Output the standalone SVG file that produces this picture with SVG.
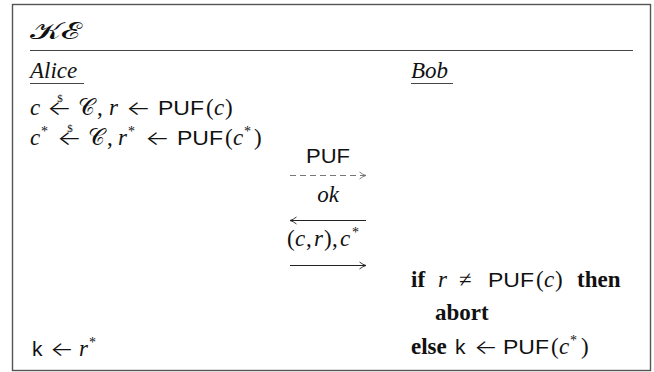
<svg xmlns="http://www.w3.org/2000/svg" width="654" height="372" viewBox="0 0 654 372">
<defs>
<marker id="ah" markerWidth="10" markerHeight="10" refX="8" refY="5" orient="auto" markerUnits="userSpaceOnUse">
<path d="M1.5,1.5 Q5,4.3 8,5 Q5,5.7 1.5,8.5" fill="none" stroke="#222" stroke-width="0.9"/>
</marker>
<marker id="ahg" markerWidth="10" markerHeight="10" refX="8" refY="5" orient="auto" markerUnits="userSpaceOnUse">
<path d="M1.5,1.5 Q5,4.3 8,5 Q5,5.7 1.5,8.5" fill="none" stroke="#777" stroke-width="0.9"/>
</marker>
</defs>
<style>
text{font-family:"Liberation Serif","DejaVu Serif",serif;font-size:23px;fill:#111}
.i{font-style:italic}
.s{font-family:"Liberation Sans","DejaVu Sans",sans-serif;font-size:21px}
.b{font-weight:bold}
.cal{font-family:"DejaVu Serif","Liberation Serif",serif}
.ar{font-family:"Inter","DejaVu Sans",sans-serif;font-weight:300;font-size:20px}
.d{font-size:11px}
.sup{font-size:14px}
.ln{stroke:#222;stroke-width:1;fill:none}
</style>
<rect x="12.5" y="4.5" width="638" height="366" fill="#fff" stroke="#555" stroke-width="1.4"/>
<g id="title">
<text x="30" y="39" class="cal" font-size="25" textLength="50" lengthAdjust="spacingAndGlyphs">𝒦ℰ</text>
<line x1="30" y1="50.5" x2="633" y2="50.5" stroke="#444" stroke-width="1"/>
</g>
<g id="alice">
<text x="30" y="78" class="i" font-size="25">Alice</text>
<line x1="30" y1="83.5" x2="84" y2="83.5" stroke="#333" stroke-width="0.9"/>
<text x="30" y="115"><tspan class="i">c</tspan><tspan x="47" class="ar" textLength="25" lengthAdjust="spacingAndGlyphs">←</tspan><tspan x="78" class="cal">𝒞</tspan><tspan x="97">,</tspan><tspan x="109" class="i">r</tspan><tspan x="126" class="ar" textLength="25" lengthAdjust="spacingAndGlyphs">←</tspan><tspan x="158" class="s" textLength="46" lengthAdjust="spacingAndGlyphs">PUF</tspan><tspan x="206">(</tspan><tspan x="214" class="i">c</tspan><tspan x="225">)</tspan></text>
<text x="60" y="102" class="d" text-anchor="middle">$</text>
<text x="30" y="145"><tspan class="i">c</tspan><tspan x="41" class="sup" dy="-9">*</tspan><tspan x="57" dy="9" class="ar" textLength="25" lengthAdjust="spacingAndGlyphs">←</tspan><tspan x="88" class="cal">𝒞</tspan><tspan x="107">,</tspan><tspan x="118" class="i">r</tspan><tspan x="128" class="sup" dy="-9">*</tspan><tspan x="145" dy="9" class="ar" textLength="25" lengthAdjust="spacingAndGlyphs">←</tspan><tspan x="177" class="s" textLength="46" lengthAdjust="spacingAndGlyphs">PUF</tspan><tspan x="225">(</tspan><tspan x="233" class="i">c</tspan><tspan x="244" class="sup" dy="-9">*</tspan><tspan x="254" dy="9">)</tspan></text>
<text x="70" y="132" class="d" text-anchor="middle">$</text>
<text x="32" y="356"><tspan class="s">k</tspan><tspan x="50" class="ar" textLength="24" lengthAdjust="spacingAndGlyphs">←</tspan><tspan x="79" class="i">r</tspan><tspan x="89" class="sup" dy="-9">*</tspan></text>
</g>
<g id="bob">
<text x="411" y="78" class="i" font-size="25">Bob</text>
<line x1="411" y1="83.5" x2="453" y2="83.5" stroke="#333" stroke-width="0.9"/>
<text x="411" y="287"><tspan class="b">if</tspan><tspan x="438" class="i">r</tspan><tspan x="459">≠</tspan><tspan x="488" class="s" textLength="46" lengthAdjust="spacingAndGlyphs">PUF</tspan><tspan x="536">(</tspan><tspan x="544" class="i">c</tspan><tspan x="555">)</tspan><tspan x="577" class="b">then</tspan></text>
<text x="435" y="320" class="b">abort</text>
<text x="411" y="354"><tspan class="b">else</tspan><tspan x="455" class="s">k</tspan><tspan x="474" class="ar" textLength="24" lengthAdjust="spacingAndGlyphs">←</tspan><tspan x="503" class="s" textLength="46" lengthAdjust="spacingAndGlyphs">PUF</tspan><tspan x="551">(</tspan><tspan x="559" class="i">c</tspan><tspan x="570" class="sup" dy="-9">*</tspan><tspan x="581" dy="9">)</tspan></text>
</g>
<g id="connectors">
<text x="306" y="163" class="s" textLength="44" lengthAdjust="spacingAndGlyphs">PUF</text>
<line x1="290" y1="175.5" x2="366" y2="175.5" stroke="#777" stroke-width="1" stroke-dasharray="6,4" marker-end="url(#ahg)"/>
<text x="328" y="202" class="i" text-anchor="middle">ok</text>
<line x1="366" y1="220.5" x2="290" y2="220.5" class="ln" marker-end="url(#ah)"/>
<text x="287" y="246">(<tspan x="295" class="i">c</tspan><tspan x="306">,</tspan><tspan x="314" class="i">r</tspan><tspan x="324">)</tspan><tspan x="332">,</tspan><tspan x="340" class="i">c</tspan><tspan x="352" class="sup" dy="-9">*</tspan></text>
<line x1="290" y1="265.5" x2="366" y2="265.5" class="ln" marker-end="url(#ah)"/>
</g>
</svg>
